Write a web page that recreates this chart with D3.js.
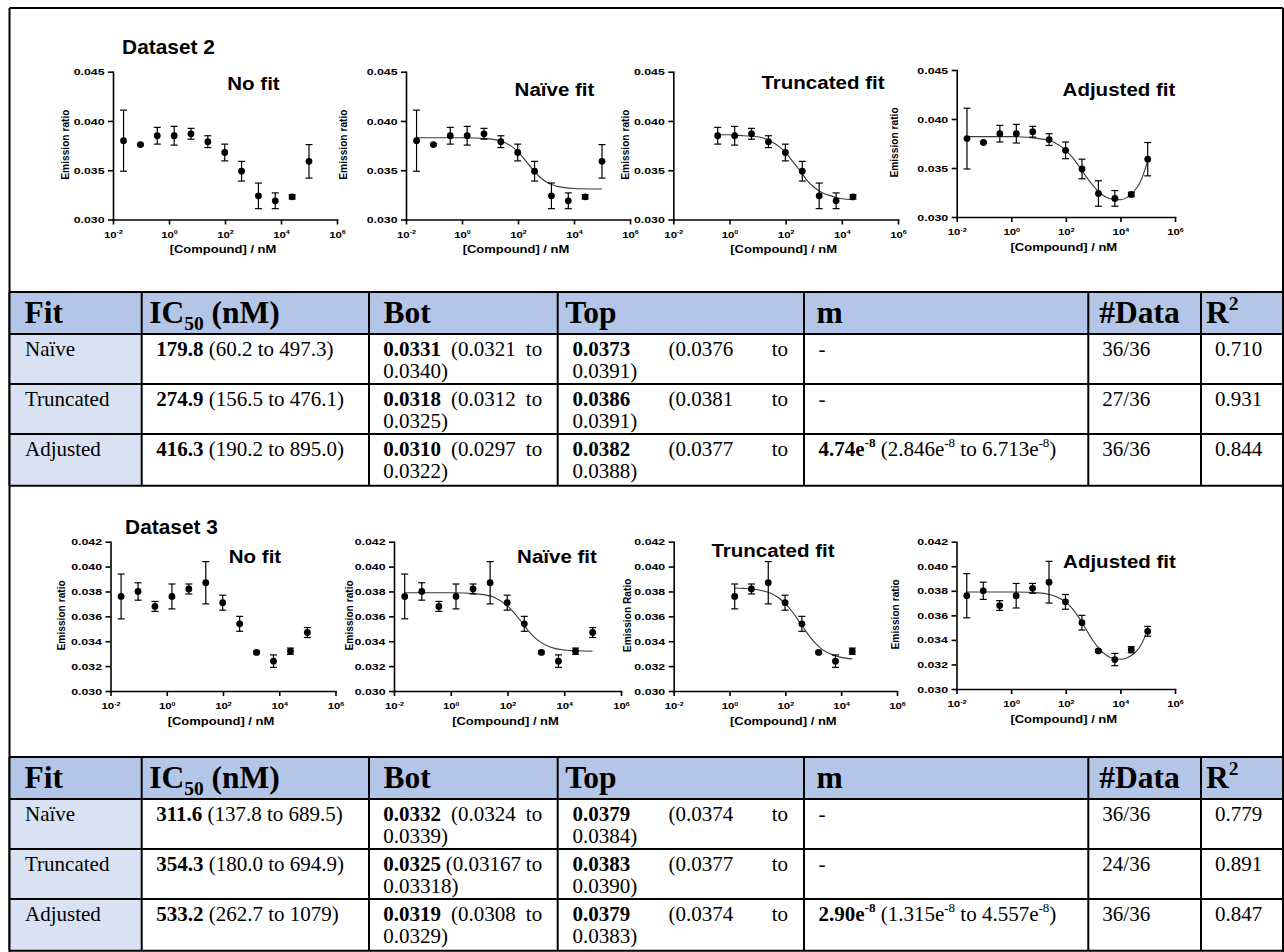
<!DOCTYPE html>
<html>
<head>
<meta charset="utf-8">
<script src="https://cdnjs.cloudflare.com/ajax/libs/d3/7.8.5/d3.min.js"></script>
<style>
  body { margin: 0; background: #fff; }
  svg text { white-space: pre; }
</style>
</head>
<body>
<script>
const width = 1284;
const height = 952;

// concentrations (nM), 4-fold dilution series
const conc = [0.0238, 0.0954, 0.381, 1.53, 6.10, 24.4, 97.7, 390.6, 1563, 6250, 25000, 100000];

// Dataset 2, mean and SD
const ds2Mean = [0.0380, 0.0376, 0.0385, 0.0385, 0.0387, 0.0379, 0.0368, 0.0349, 0.0324, 0.0319, 0.0323, 0.0359];
const ds2Sd = [0.0031, 0.0001, 0.00085, 0.00095, 0.00055, 0.0006, 0.00085, 0.0010, 0.0013, 0.0008, 0.00022, 0.0017];
// Dataset 3, mean and SD
const ds3Mean = [0.0376, 0.0380, 0.0368, 0.0376, 0.0382, 0.0387, 0.0371, 0.0354, 0.0331, 0.0324, 0.0332, 0.0347];
const ds3Sd = [0.0018, 0.0007, 0.0004, 0.0010, 0.0004, 0.0017, 0.0006, 0.0006, 0.0001, 0.0005, 0.00025, 0.0004];

// points kept by the truncated fits (first and last index)
const trunc2 = [2, 10];
const trunc3 = [3, 10];

// fitted curves: log10 [compound] and ratio
const naive2Log = [-1.62, 0, 1, 1.5, 1.75, 2, 2.25, 2.5, 2.75, 3, 3.25, 3.5, 4, 5];
const naive2Val = [0.0383, 0.0383, 0.03818, 0.03785, 0.03747, 0.03687, 0.03605, 0.03517, 0.03439, 0.03384, 0.0335, 0.03331, 0.03315, 0.0331];
const trunc2Log = [-0.42, 0, 0.5, 1, 1.5, 1.75, 2, 2.25, 2.5, 2.75, 3, 3.25, 3.5, 4, 4.4];
const trunc2Val = [0.0386, 0.0386, 0.0385, 0.0384, 0.0379, 0.03745, 0.0368, 0.0359, 0.0350, 0.0340, 0.0333, 0.0328, 0.0325, 0.0321, 0.0320];
const adj2Log = [-1.62, 0, 1, 1.5, 2, 2.25, 2.5, 2.75, 3, 3.25, 3.5, 3.75, 4, 4.25, 4.5, 4.75, 5];
const adj2Val = [0.0382, 0.0382, 0.0380, 0.0377, 0.0368, 0.03605, 0.0351, 0.0341, 0.0332, 0.03245, 0.0320, 0.0318, 0.03176, 0.0320, 0.0326, 0.0337, 0.0357];

const naive3Log = [-1.62, 0, 1, 1.5, 2, 2.25, 2.5, 2.75, 3, 3.5, 4, 5];
const naive3Val = [0.0379, 0.0379, 0.03779, 0.03755, 0.03684, 0.03624, 0.03552, 0.0348, 0.03421, 0.03354, 0.0333, 0.0332];
const trunc3Log = [0.18, 0.5, 1, 1.5, 2, 2.25, 2.5, 2.75, 3, 3.25, 3.5, 4, 4.4];
const trunc3Val = [0.03828, 0.03825, 0.03814, 0.03783, 0.03703, 0.03637, 0.03557, 0.03475, 0.03402, 0.03347, 0.03309, 0.0327, 0.03258];
const adj3Log = [-1.62, 0, 1, 1.5, 2, 2.25, 2.5, 2.75, 3, 3.25, 3.5, 3.75, 4, 4.25, 4.5, 4.75, 5];
const adj3Val = [0.0379, 0.0379, 0.03783, 0.03764, 0.03708, 0.03653, 0.03575, 0.03485, 0.03393, 0.03323, 0.03273, 0.03248, 0.03242, 0.03255, 0.03289, 0.03357, 0.0348];

// axes
const xTicks = [1e-2, 1e0, 1e2, 1e4, 1e6];
const yTicks2 = [0.030, 0.035, 0.040, 0.045];
const yTicks3 = [0.030, 0.032, 0.034, 0.036, 0.038, 0.040, 0.042];
const panelTitles = ['No fit', 'Naïve fit', 'Truncated fit', 'Adjusted fit'];

// tables
const fitNames = ['Naïve', 'Truncated', 'Adjusted'];
const mExp = '-8';
const table2 = {
  ic50: ['179.8', '274.9', '416.3'],
  ic50Ci: ['(60.2 to 497.3)', '(156.5 to 476.1)', '(190.2 to 895.0)'],
  bot: ['0.0331', '0.0318', '0.0310'],
  botCi: ['(0.0321 to 0.0340)', '(0.0312 to 0.0325)', '(0.0297 to 0.0322)'],
  top: ['0.0373', '0.0386', '0.0382'],
  topCi: ['(0.0376 to 0.0391)', '(0.0381 to 0.0391)', '(0.0377 to 0.0388)'],
  mVal: ['', '', '4.74'], mLo: ['', '', '2.846'], mHi: ['', '', '6.713'],
  nData: ['36/36', '27/36', '36/36'],
  r2: ['0.710', '0.931', '0.844']
};
const table3 = {
  ic50: ['311.6', '354.3', '533.2'],
  ic50Ci: ['(137.8 to 689.5)', '(180.0 to 694.9)', '(262.7 to 1079)'],
  bot: ['0.0332', '0.0325', '0.0319'],
  botCi: ['(0.0324 to 0.0339)', '(0.03167 to 0.03318)', '(0.0308 to 0.0329)'],
  top: ['0.0379', '0.0383', '0.0379'],
  topCi: ['(0.0374 to 0.0384)', '(0.0377 to 0.0390)', '(0.0374 to 0.0383)'],
  mVal: ['', '', '2.90'], mLo: ['', '', '1.315'], mHi: ['', '', '4.557'],
  nData: ['36/36', '24/36', '36/36'],
  r2: ['0.779', '0.891', '0.847']
};

const sans = "'Liberation Sans', Arial, Helvetica, sans-serif";
const serif = "'Liberation Serif', 'Times New Roman', Times, serif";

const svg = d3.select('body').append('svg')
  .attr('width', width)
  .attr('height', height)
  .style('display', 'block');

function stretch(sel, k, origin) {
  return sel.style('transform-box', 'fill-box')
    .style('transform-origin', origin || 'center')
    .style('transform', `scaleX(${k})`);
}

// text runs with bold / superscript / subscript parts
function addRuns(text, parts, base) {
  let cur = 0;
  parts.forEach(p => {
    const off = p.sup ? -base * 0.4 : p.sub ? base * 0.22 : 0;
    const ts = text.append('tspan').attr('dy', off - cur).text(p.t);
    cur = off;
    if (p.b) ts.attr('font-weight', 'bold');
    if (p.sup || p.sub) ts.attr('font-size', base * 0.62);
  });
  return text;
}

function drawPanel(p) {
  const g = svg.append('g').attr('font-family', sans);
  const x = d3.scaleLog().domain([1e-2, 1e6]).range([p.x0, p.x1]);
  const y = d3.scaleLinear()
    .domain([p.yTicks[0], p.yTicks[p.yTicks.length - 1]])
    .range([p.yb, p.yt]);

  if (p.fitLog) {
    const pts = p.fitLog.map((L, i) => [x(10 ** L), y(p.fitVal[i])]);
    g.append('path')
      .attr('d', d3.line().curve(d3.curveMonotoneX)(pts))
      .attr('fill', 'none')
      .attr('stroke', '#3a3a3a')
      .attr('stroke-width', 1.1);
  }

  const idx = d3.range(p.from, p.to + 1);
  const bars = g.append('g').attr('stroke', '#000').attr('stroke-width', 1.2);
  idx.forEach(i => {
    const cx = x(conc[i]);
    const hi = y(p.mean[i] + p.sd[i]);
    const lo = y(p.mean[i] - p.sd[i]);
    bars.append('line').attr('x1', cx).attr('x2', cx).attr('y1', hi).attr('y2', lo);
    bars.append('line').attr('x1', cx - 3.5).attr('x2', cx + 3.5).attr('y1', hi).attr('y2', hi);
    bars.append('line').attr('x1', cx - 3.5).attr('x2', cx + 3.5).attr('y1', lo).attr('y2', lo);
  });
  g.append('g').selectAll('circle')
    .data(idx)
    .join('circle')
    .attr('cx', i => x(conc[i]))
    .attr('cy', i => y(p.mean[i]))
    .attr('r', 3.4)
    .attr('fill', '#000');

  const xAxis = g.append('g')
    .attr('transform', `translate(0,${p.yb})`)
    .call(d3.axisBottom(x).tickValues(xTicks).tickSize(5).tickSizeOuter(0).tickFormat(''));
  xAxis.attr('font-family', sans).attr('font-size', 9.5).attr('font-weight', 'bold');
  xAxis.selectAll('.tick text').remove();
  xAxis.selectAll('.tick').append('text')
    .attr('y', 18.5)
    .attr('text-anchor', 'middle')
    .attr('fill', '#000')
    .each(function (d) {
      addRuns(d3.select(this), [{ t: '10' }, { t: String(Math.round(Math.log10(d))), sup: true }], 9.5);
    });
  stretch(xAxis.selectAll('.tick text'), 1.2, 'center');

  const yAxis = g.append('g')
    .attr('transform', `translate(${p.x0},0)`)
    .call(d3.axisLeft(y).tickValues(p.yTicks).tickFormat(d3.format('.3f')).tickSize(5).tickSizeOuter(0));
  yAxis.attr('font-family', sans).attr('font-size', 9.5).attr('font-weight', 'bold');
  yAxis.selectAll('text').attr('x', -8.5);
  stretch(yAxis.selectAll('text'), 1.3, '100% 50%');

  g.selectAll('.domain, .tick line').attr('stroke-width', 1.6);
  g.selectAll('.domain').attr('stroke-linecap', 'square');

  stretch(g.append('text')
    .attr('x', p.tx).attr('y', p.ty)
    .attr('text-anchor', 'middle')
    .attr('font-size', 19)
    .attr('font-weight', 'bold')
    .text(p.title), 1.08, 'center');

  g.append('text')
    .attr('transform', `translate(${p.lx},${(p.yb + p.yt) / 2 - 1}) rotate(-90)`)
    .attr('text-anchor', 'middle')
    .attr('dy', '0.35em')
    .attr('font-size', 10.2)
    .attr('font-weight', 'bold')
    .text(p.ylab);

  stretch(g.append('text')
    .attr('x', (p.x0 + p.x1) / 2 - 2).attr('y', p.yb + 34)
    .attr('text-anchor', 'middle')
    .attr('font-size', 10)
    .attr('font-weight', 'bold')
    .text('[Compound] / nM'), 1.3, 'center');
}

// frame
const frame = svg.append('g').attr('stroke', '#000').attr('stroke-width', 2);
frame.append('line').attr('x1', 9.5).attr('x2', 1283).attr('y1', 8).attr('y2', 8);
frame.append('line').attr('x1', 9.5).attr('x2', 9.5).attr('y1', 8).attr('y2', height);
frame.append('line').attr('x1', 1283).attr('x2', 1283).attr('y1', 8).attr('y2', height);

function heading(txt, cx, by) {
  stretch(svg.append('text')
    .attr('x', cx).attr('y', by)
    .attr('text-anchor', 'middle')
    .attr('font-family', sans)
    .attr('font-size', 19.5)
    .attr('font-weight', 'bold')
    .text(txt), 1.07, 'center');
}

heading('Dataset 2', 168.5, 54);
heading('Dataset 3', 171.5, 534);

const ds2 = { mean: ds2Mean, sd: ds2Sd, yTicks: yTicks2 };
const ds3 = { mean: ds3Mean, sd: ds3Sd, yTicks: yTicks3 };
const panels = [
  { ...ds2, x0: 113, x1: 337, yb: 219.5, yt: 71.7, from: 0, to: 11, title: panelTitles[0], tx: 253.5, ty: 90, lx: 65, ylab: 'Emission ratio' },
  { ...ds2, x0: 406, x1: 630, yb: 219.5, yt: 71.7, from: 0, to: 11, title: panelTitles[1], tx: 554.5, ty: 96, lx: 343.3, ylab: 'Emission ratio', fitLog: naive2Log, fitVal: naive2Val },
  { ...ds2, x0: 673.3, x1: 898, yb: 219.5, yt: 71.7, from: trunc2[0], to: trunc2[1], title: panelTitles[2], tx: 823, ty: 89.3, lx: 625, ylab: 'Emission ratio', fitLog: trunc2Log, fitVal: trunc2Val },
  { ...ds2, x0: 956.7, x1: 1175, yb: 217, yt: 70, from: 0, to: 11, title: panelTitles[3], tx: 1119, ty: 96, lx: 894.3, ylab: 'Emission ratio', fitLog: adj2Log, fitVal: adj2Val },
  { ...ds3, x0: 110.5, x1: 335.5, yb: 691, yt: 541.7, from: 0, to: 11, title: panelTitles[0], tx: 255, ty: 563, lx: 61.7, ylab: 'Emission ratio' },
  { ...ds3, x0: 394, x1: 621, yb: 691, yt: 541.7, from: 0, to: 11, title: panelTitles[1], tx: 557, ty: 563, lx: 349.4, ylab: 'Emission ratio', fitLog: naive3Log, fitVal: naive3Val },
  { ...ds3, x0: 673.7, x1: 897, yb: 691, yt: 541.7, from: trunc3[0], to: trunc3[1], title: panelTitles[2], tx: 773, ty: 556.7, lx: 627.5, ylab: 'Emission Ratio', fitLog: trunc3Log, fitVal: trunc3Val },
  { ...ds3, x0: 956.5, x1: 1175, yb: 689, yt: 541.7, from: 0, to: 11, title: panelTitles[3], tx: 1119.5, ty: 568, lx: 895.6, ylab: 'Emission ratio', fitLog: adj3Log, fitVal: adj3Val }
];
panels.forEach(drawPanel);

// tables
const colX = [9.5, 141.7, 369, 557.7, 804, 1088.3, 1201, 1283];
const headPad = [15, 7.5, 14.5, 7.5, 12.5, 11, 5];
const tableHeader = [
  [{ t: 'Fit' }],
  [{ t: 'IC' }, { t: '50', sub: true }, { t: ' (nM)' }],
  [{ t: 'Bot' }],
  [{ t: 'Top' }],
  [{ t: 'm' }],
  [{ t: '#Data' }],
  [{ t: 'R' }, { t: '2', sup: true }]
];

function drawTable(top, t) {
  const g = svg.append('g').attr('font-family', serif);
  const headH = 42;
  const rowH = [50, 50, 51.7];
  const rowTop = [top + headH];
  rowH.forEach((h, i) => rowTop.push(rowTop[i] + h));
  const bottom = rowTop[3];
  const body = 21;

  g.append('rect')
    .attr('x', colX[0]).attr('y', top)
    .attr('width', colX[7] - colX[0]).attr('height', headH)
    .attr('fill', '#b4c6e7');
  g.append('rect')
    .attr('x', colX[0]).attr('y', top + headH)
    .attr('width', colX[1] - colX[0]).attr('height', bottom - top - headH)
    .attr('fill', '#d9e2f3');

  tableHeader.forEach((parts, c) => {
    addRuns(g.append('text')
      .attr('x', colX[c] + headPad[c]).attr('y', top + 31)
      .attr('font-size', 31.5).attr('font-weight', 'bold'), parts, 31.5);
  });

  function cell(xx, yy, parts) {
    addRuns(g.append('text').attr('x', xx).attr('y', yy).attr('font-size', body), parts, body);
  }

  function justified(val, ci, left, right, y0, y1) {
    const words = ci.split(' ');
    const last = words.pop();
    const line = [{ t: val, b: true }].concat(words.map(w => ({ t: w })));
    const els = line.map(w => g.append('text')
      .attr('y', y0).attr('font-size', body)
      .attr('font-weight', w.b ? 'bold' : null)
      .text(w.t));
    const widths = els.map(e => e.node().getComputedTextLength());
    const gap = (right - left - d3.sum(widths)) / (els.length - 1);
    let xx = left;
    els.forEach((e, i) => { e.attr('x', xx); xx += widths[i] + gap; });
    cell(left, y1, [{ t: last }]);
  }

  fitNames.forEach((name, i) => {
    const y0 = rowTop[i] + 21.7;
    const y1 = y0 + 22.3;
    cell(colX[0] + 15.5, y0, [{ t: name }]);
    cell(colX[1] + 14.5, y0, [{ t: t.ic50[i], b: true }, { t: ' ' + t.ic50Ci[i] }]);
    justified(t.bot[i], t.botCi[i], colX[2] + 14.3, colX[3] - 15.5, y0, y1);
    justified(t.top[i], t.topCi[i], colX[3] + 14.8, colX[4] - 16, y0, y1);
    if (t.mVal[i]) {
      cell(colX[4] + 14.5, y0, [
        { t: t.mVal[i] + 'e', b: true }, { t: mExp, sup: true, b: true },
        { t: ' (' + t.mLo[i] + 'e' }, { t: mExp, sup: true },
        { t: ' to ' + t.mHi[i] + 'e' }, { t: mExp, sup: true }, { t: ')' }
      ]);
    } else {
      cell(colX[4] + 14.5, y0, [{ t: '-' }]);
    }
    cell(colX[5] + 14, y0, [{ t: t.nData[i] }]);
    cell(colX[6] + 14, y0, [{ t: t.r2[i] }]);
  });

  const lines = g.append('g').attr('stroke', '#000').attr('stroke-width', 2);
  [top, top + headH].concat(rowTop.slice(1)).forEach(yy => {
    lines.append('line').attr('x1', colX[0]).attr('x2', colX[7]).attr('y1', yy).attr('y2', yy);
  });
  colX.forEach(xx => {
    lines.append('line').attr('x1', xx).attr('x2', xx).attr('y1', top).attr('y2', bottom);
  });
}

drawTable(292, table2);
drawTable(757, table3);
</script>
</body>
</html>
